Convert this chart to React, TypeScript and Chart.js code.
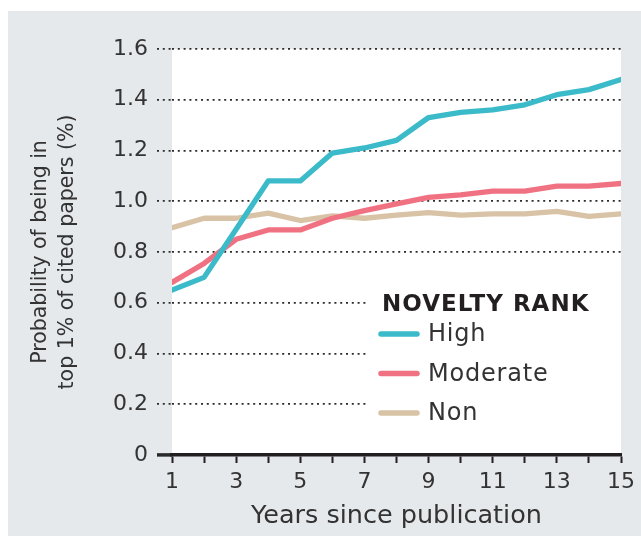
import React, { useEffect, useRef } from "react";
import { Chart, registerables } from "chart.js";

Chart.register(...registerables);

const years = [1, 2, 3, 4, 5, 6, 7, 8, 9, 10, 11, 12, 13, 14, 15];
const highValues = [0.65, 0.7, 0.89, 1.08, 1.08, 1.19, 1.21, 1.24, 1.33, 1.35, 1.36, 1.38, 1.42, 1.44, 1.48];
const moderateValues = [0.68, 0.755, 0.85, 0.887, 0.887, 0.933, 0.963, 0.99, 1.015, 1.025, 1.04, 1.04, 1.06, 1.06, 1.07];
const nonValues = [0.896, 0.933, 0.933, 0.953, 0.924, 0.942, 0.933, 0.945, 0.955, 0.945, 0.95, 0.95, 0.96, 0.94, 0.95];
const seriesLabels = ["High", "Moderate", "Non"];
const seriesColors = ["#3bbac9", "#f07282", "#d9c3a6"];
const legendTitle = "NOVELTY RANK";
const xTitle = "Years since publication";
const yTitle = ["Probability of being in", "top 1% of cited papers (%)"];

const FONT = "'DejaVu Sans', sans-serif";
const DOT = [2, 3.8];

const backgroundPlugin = {
  id: "bgPlot",
  beforeDraw(chart: any) {
    const { ctx, chartArea, width, height } = chart;
    ctx.save();
    ctx.fillStyle = "#e6e9ec";
    ctx.fillRect(0, 0, width, height);
    ctx.fillStyle = "#ffffff";
    ctx.fillRect(chartArea.left, chartArea.top, chartArea.right - chartArea.left, chartArea.bottom - chartArea.top);
    ctx.restore();
  },
};

const legendPlugin = {
  id: "customLegend",
  beforeDatasetsDraw(chart: any) {
    const { ctx, chartArea } = chart;
    const boxLeft = chartArea.left + 195;
    const boxTop = chartArea.top + 231;
    ctx.save();
    ctx.fillStyle = "#ffffff";
    ctx.fillRect(boxLeft, boxTop, chartArea.right - boxLeft, 150);
    ctx.restore();
  },
  afterDatasetsDraw(chart: any) {
    const { ctx, chartArea } = chart;
    const x0 = chartArea.left + 210;
    const titleY = chartArea.top + 256;
    ctx.save();
    ctx.textBaseline = "middle";
    ctx.textAlign = "left";
    ctx.fillStyle = "#231f20";
    ctx.font = `bold 23px ${FONT}`;
    (ctx as any).letterSpacing = "1px";
    ctx.fillText(legendTitle, x0, titleY);
    ctx.font = `24px ${FONT}`;
    (ctx as any).letterSpacing = "0.8px";
    chart.data.datasets.forEach((ds: any, i: number) => {
      const y = titleY + 29 + i * 39.5;
      ctx.strokeStyle = ds.borderColor;
      ctx.lineWidth = 5.5;
      ctx.lineCap = "round";
      ctx.beginPath();
      ctx.moveTo(x0 - 1, y);
      ctx.lineTo(x0 + 35, y);
      ctx.stroke();
      ctx.fillStyle = "#333333";
      ctx.fillText(ds.label, x0 + 46, y + 1);
    });
    (ctx as any).letterSpacing = "0px";
    ctx.restore();
  },
};

export default function App() {
  const canvasRef = useRef<HTMLCanvasElement | null>(null);

  useEffect(() => {
    if (!canvasRef.current) return;
    const values = [highValues, moderateValues, nonValues];
    const chart = new Chart(canvasRef.current, {
      type: "line",
      data: {
        datasets: seriesLabels.map((label, i) => ({
          label,
          data: years.map((x, j) => ({ x, y: values[i][j] })),
          borderColor: seriesColors[i],
          backgroundColor: seriesColors[i],
          borderWidth: 5.3,
          pointRadius: 0,
          borderCapStyle: "round",
          borderJoinStyle: "round",
          tension: 0,
        })),
      },
      options: {
        animation: false,
        responsive: false,
        maintainAspectRatio: false,
        layout: { padding: { top: 38, right: 18, left: 0, bottom: 0 } },
        plugins: {
          legend: { display: false },
          tooltip: { enabled: false },
        },
        scales: {
          x: {
            type: "linear",
            min: 1,
            max: 15,
            afterFit: (scale: any) => {
              scale.height = 81;
            },
            ticks: {
              stepSize: 1,
              autoSkip: false,
              maxRotation: 0,
              padding: 6,
              color: "#333333",
              font: { family: FONT, size: 22 },
              callback: (v: any) => (Number(v) % 2 === 1 ? String(v) : ""),
            },
            grid: {
              drawOnChartArea: false,
              drawTicks: true,
              tickLength: 8,
              tickWidth: 2,
              tickColor: "#231f20",
            },
            border: { display: true, color: "#231f20", width: 3.5 },
            title: {
              display: true,
              text: xTitle,
              color: "#333333",
              font: { family: FONT, size: 25.5 },
              padding: { top: 0, bottom: 4 },
            },
          },
          y: {
            type: "linear",
            min: 0,
            max: 1.6,
            afterFit: (scale: any) => {
              scale.width = 164;
            },
            ticks: {
              stepSize: 0.2,
              padding: 9,
              color: "#333333",
              font: { family: FONT, size: 22 },
              callback: (v: any) => (Number(v) === 0 ? "0" : Number(v).toFixed(1)),
            },
            grid: {
              color: "#2a2a2a",
              lineWidth: 1.8,
              drawTicks: true,
              tickLength: 15,
              tickColor: "#2a2a2a",
              tickWidth: (ctx: any) => (ctx.tick && ctx.tick.value === 0 ? 3.5 : 1.8),
              tickBorderDash: (ctx: any) => (ctx.tick && ctx.tick.value === 0 ? [] : DOT),
            },
            border: { display: false, dash: DOT },
            title: {
              display: true,
              text: yTitle,
              color: "#333333",
              font: { family: FONT, size: 20.5, lineHeight: 1.32 },
              padding: { top: 19, bottom: 0 },
            },
          },
        },
      },
      plugins: [backgroundPlugin, legendPlugin],
    } as any);
    return () => chart.destroy();
  }, []);

  return (
    <div style={{ position: "absolute", left: 8, top: 11, width: 633, height: 525 }}>
      <canvas ref={canvasRef} width={633} height={525} style={{ display: "block" }} />
    </div>
  );
}
